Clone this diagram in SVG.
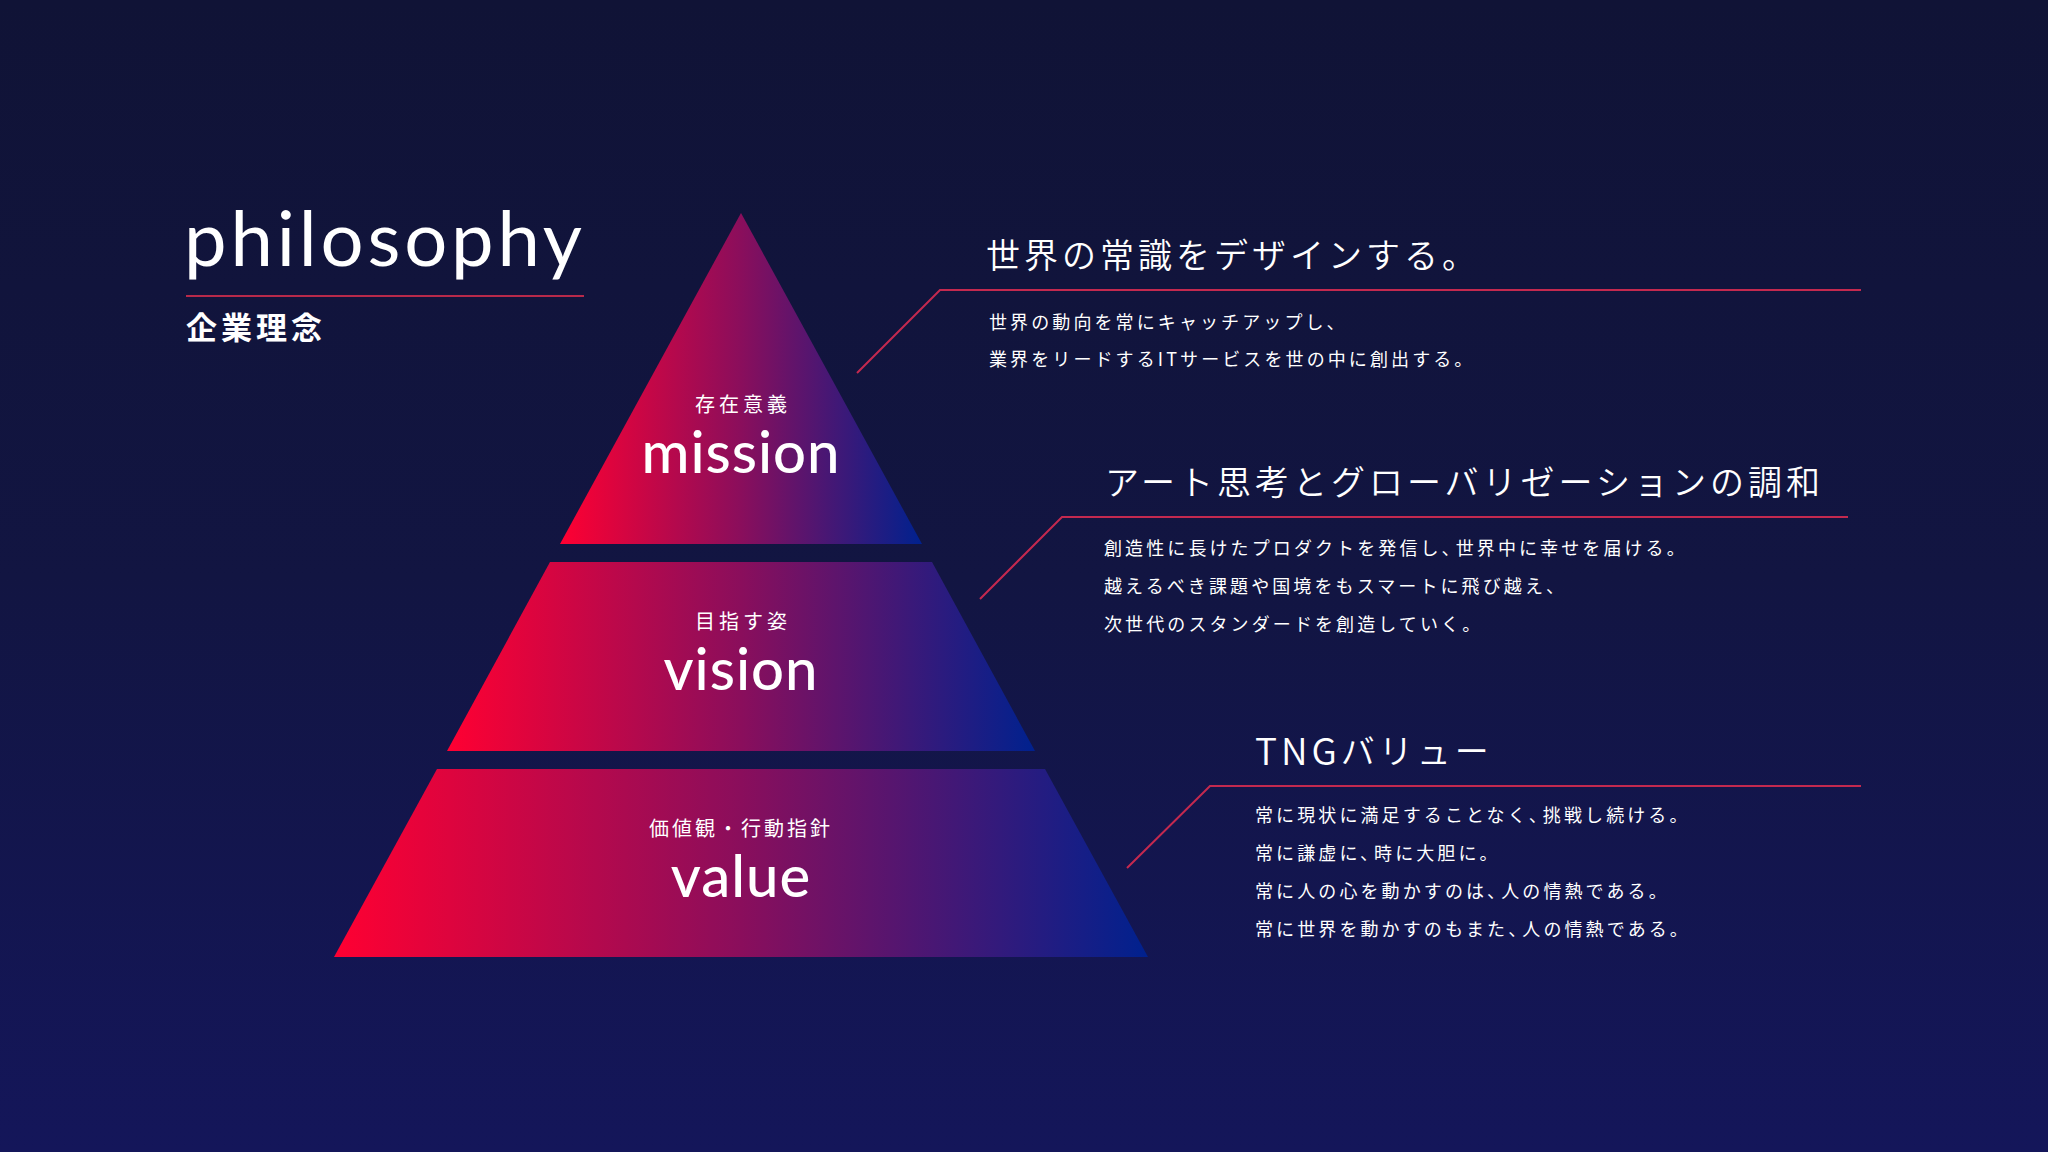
<svg xmlns="http://www.w3.org/2000/svg" width="2048" height="1152" viewBox="0 0 2048 1152">
  <defs>
    <linearGradient id="bg" x1="0" y1="0" x2="0" y2="1">
      <stop offset="0" stop-color="#101336"/>
      <stop offset="0.5" stop-color="#121542"/>
      <stop offset="1" stop-color="#14165a"/>
    </linearGradient>
    <linearGradient id="band" x1="0" y1="0" x2="1" y2="0">
      <stop offset="0" stop-color="#ff0032"/>
      <stop offset="0.5" stop-color="#8a0e5c"/>
      <stop offset="1" stop-color="#00218e"/>
    </linearGradient>
    <style>
      .title { font-family: Lato, "Noto Sans", sans-serif; font-size: 76px; fill: #ffffff; font-weight: 400; }
      .sub { font-family: "Noto Sans CJK JP", sans-serif; font-size: 31px; font-weight: 700; fill: #ffffff; letter-spacing: 4px; }
      .band { fill: url(#band); }
      .jl { font-family: "Noto Sans CJK JP", sans-serif; font-size: 20px; font-weight: 400; fill: #ffffff; letter-spacing: 4px; text-anchor: middle; dominant-baseline: central; }
      .en { font-family: Lato, "Noto Sans", sans-serif; font-size: 58px; font-weight: 500; fill: #ffffff; text-anchor: middle; letter-spacing: 1px; }
      .h { font-family: "Noto Sans CJK JP", sans-serif; font-size: 34px; font-weight: 350; fill: #ffffff; letter-spacing: 4px; dominant-baseline: central; }
      .b { font-family: "Noto Sans CJK JP", sans-serif; font-size: 18px; font-weight: 400; fill: #ffffff; letter-spacing: 3.1px; dominant-baseline: central; }
      .conn { fill: none; stroke: #c4294f; stroke-width: 2; }
      .rule { stroke: #b8294a; stroke-width: 2; }
    </style>
  </defs>

  <rect x="0" y="0" width="2048" height="1152" fill="url(#bg)"/>

  <g id="title">
    <text class="title" x="184" y="266" textLength="398" lengthAdjust="spacing">philosophy</text>
    <line class="rule" x1="186" y1="296" x2="584" y2="296"/>
    <text class="sub" x="186" y="339">企業理念</text>
  </g>

  <g id="mission">
    <polygon class="band" points="741,213 922,544 560,544"/>
    <text class="jl" x="743" y="403">存在意義</text>
    <text class="en" x="741" y="473">mission</text>
  </g>

  <g id="vision">
    <polygon class="band" points="550,562 932,562 1035,751 447,751"/>
    <text class="jl" x="743" y="620">目指す姿</text>
    <text class="en" x="741" y="690">vision</text>
  </g>

  <g id="value">
    <polygon class="band" points="437,769 1045,769 1148,957 334,957"/>
    <text class="jl" x="741" y="827" style="letter-spacing:3px">価値観・行動指針</text>
    <text class="en" x="741" y="897">value</text>
  </g>

  <g id="connectors">
    <polyline class="conn" points="857,373 940,290 1861,290"/>
    <polyline class="conn" points="980,599 1062,517 1848,517"/>
    <polyline class="conn" points="1127,868 1210,786 1861,786"/>
  </g>

  <g id="mission-text">
    <text class="h" x="986" y="253">世界の常識をデザインする。</text>
    <text class="b" x="989" y="321">世界の動向を常にキャッチアップし、</text>
    <text class="b" x="989" y="358">業界をリードするITサービスを世の中に創出する。</text>
  </g>

  <g id="vision-text">
    <text class="h" x="1105" y="480">アート思考とグローバリゼーションの調和</text>
    <text class="b" x="1104" y="547">創造性に長けたプロダクトを発信し、<tspan dx="-7">世界中に幸せを届ける。</tspan></text>
    <text class="b" x="1104" y="585">越えるべき課題や国境をもスマートに飛び越え、</text>
    <text class="b" x="1104" y="623">次世代のスタンダードを創造していく。</text>
  </g>

  <g id="value-text">
    <text class="h" x="1255" y="749"><tspan font-size="37" letter-spacing="4">TNG</tspan>バリュー</text>
    <text class="b" x="1255" y="814">常に現状に満足することなく、<tspan dx="-7">挑戦し続ける。</tspan></text>
    <text class="b" x="1255" y="852">常に謙虚に、<tspan dx="-7">時に大胆に。</tspan></text>
    <text class="b" x="1255" y="890">常に人の心を動かすのは、<tspan dx="-7">人の情熱である。</tspan></text>
    <text class="b" x="1255" y="928">常に世界を動かすのもまた、<tspan dx="-7">人の情熱である。</tspan></text>
  </g>
</svg>
